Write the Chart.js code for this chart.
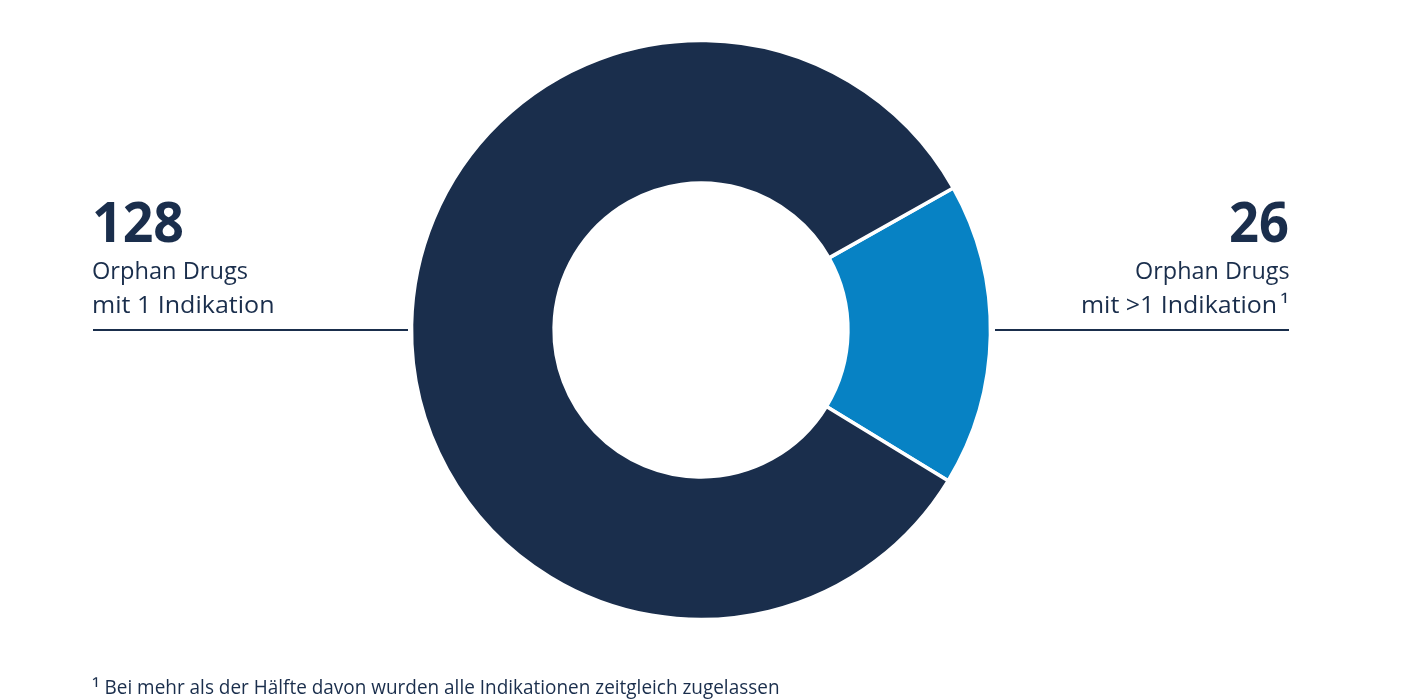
<!DOCTYPE html>
<html lang="de">
<head>
<meta charset="utf-8">
<title>Orphan Drugs nach Anzahl der Indikationen</title>
<script src="https://cdn.jsdelivr.net/npm/chart.js@4.4.1/dist/chart.umd.min.js"></script>
<style>
  html, body { margin: 0; padding: 0; background: #ffffff; }
  #wrap { position: relative; width: 1401px; height: 700px; overflow: hidden; }
  #chart { position: absolute; left: 0; top: 0; }
  .t { position: absolute; left: 0; top: 0; white-space: nowrap; color: #1a2e4c;
       font-family: "Open Sans", "Noto Sans", "DejaVu Sans", sans-serif; line-height: 1; }
  .num { font-weight: 700; font-size: 56px; }
  .lbl { font-weight: 400; font-size: 24px; }
  .foot { font-weight: 400; font-size: 20px; }
  .bl { display: inline-block; width: 0; height: 0; vertical-align: baseline; }
  .rule { position: absolute; height: 1.5px; background: #1a2e4c; }
</style>
</head>
<body>
<div id="wrap">
  <canvas id="chart" width="1401" height="700"></canvas>
  <div id="numL" class="t num"></div>
  <div id="l1L" class="t lbl"></div>
  <div id="l2L" class="t lbl"></div>
  <div id="numR" class="t num"></div>
  <div id="l1R" class="t lbl"></div>
  <div id="l2R" class="t lbl"></div>
  <div id="foot" class="t foot"></div>
  <div class="rule" style="left:93px; width:315px; top:329.3px;"></div>
  <div class="rule" style="left:995px; width:294px; top:329.3px;"></div>
</div>
<script>
// ---- data ----
const categories = ["Orphan Drugs mit >1 Indikation", "Orphan Drugs mit 1 Indikation"];
const values = [26, 128];
const labelLine1 = ["Orphan Drugs", "Orphan Drugs"];
const labelLine2 = ["mit >1 Indikation", "mit 1 Indikation"];
const footnote = "Bei mehr als der Hälfte davon wurden alle Indikationen zeitgleich zugelassen";

// ---- chart ----
const total = values.reduce((a, b) => a + b, 0);
const firstSweep = values[0] / total * 360;
const centerAngle = 91; // blue slice centred slightly below 3 o'clock

new Chart(document.getElementById("chart"), {
  type: "doughnut",
  data: {
    labels: categories,
    datasets: [{
      data: values,
      backgroundColor: ["#0782c4", "#1a2e4c"],
      hoverBackgroundColor: ["#0782c4", "#1a2e4c"],
      borderColor: "#ffffff",
      hoverBorderColor: "#ffffff",
      borderWidth: 3.5,
      borderAlign: "center",
      hoverOffset: 0
    }]
  },
  options: {
    responsive: false,
    animation: false,
    devicePixelRatio: 1,
    rotation: centerAngle - firstSweep / 2,
    radius: 289.5,
    cutout: "50.75%",
    layout: { padding: { left: 1, right: 0, top: 0, bottom: 40 } },
    events: [],
    plugins: { legend: { display: false }, tooltip: { enabled: false } }
  }
});

// ---- text ----
function setText(id, html) { document.getElementById(id).innerHTML = html + '<span class="bl"></span>'; }
setText("numL", String(values[1]));
setText("l1L", labelLine1[1]);
setText("l2L", labelLine2[1]);
setText("numR", String(values[0]));
setText("l1R", labelLine1[0]);
setText("l2R", labelLine2[0].replace(">", "&gt;") + '<span style="margin-left:3px">¹</span>');
setText("foot", '<span style="font-size:1.15em; vertical-align:-0.12em">¹</span> ' + footnote);

function place(id, edge, align, width, baseline) {
  const el = document.getElementById(id);
  el.style.left = "0px"; el.style.top = "0px"; el.style.transform = "none";
  const r = el.getBoundingClientRect();
  const b = el.querySelector(".bl").getBoundingClientRect();
  const s = width / r.width;
  const baseOff = b.top - r.top;
  el.style.top = (baseline - baseOff) + "px";
  if (align === "left") {
    el.style.transformOrigin = "0 0";
    el.style.left = edge + "px";
  } else {
    el.style.transformOrigin = "100% 0";
    el.style.left = (edge - r.width) + "px";
  }
  el.style.transform = "scaleX(" + s + ")";
}

function layoutText() {
  place("numL", 91.5, "left", 92, 241.7);
  place("l1L", 91.5, "left", 156, 279.3);
  place("l2L", 91.5, "left", 182.5, 312.7);
  place("numR", 1289, "right", 60, 241.7);
  place("l1R", 1289.5, "right", 154.5, 279.3);
  place("l2R", 1288.5, "right", 208, 312.7);
  place("foot", 92, "left", 687.5, 694.3);
}
if (document.fonts && document.fonts.ready) {
  document.fonts.ready.then(layoutText);
}
layoutText();
</script>
</body>
</html>
